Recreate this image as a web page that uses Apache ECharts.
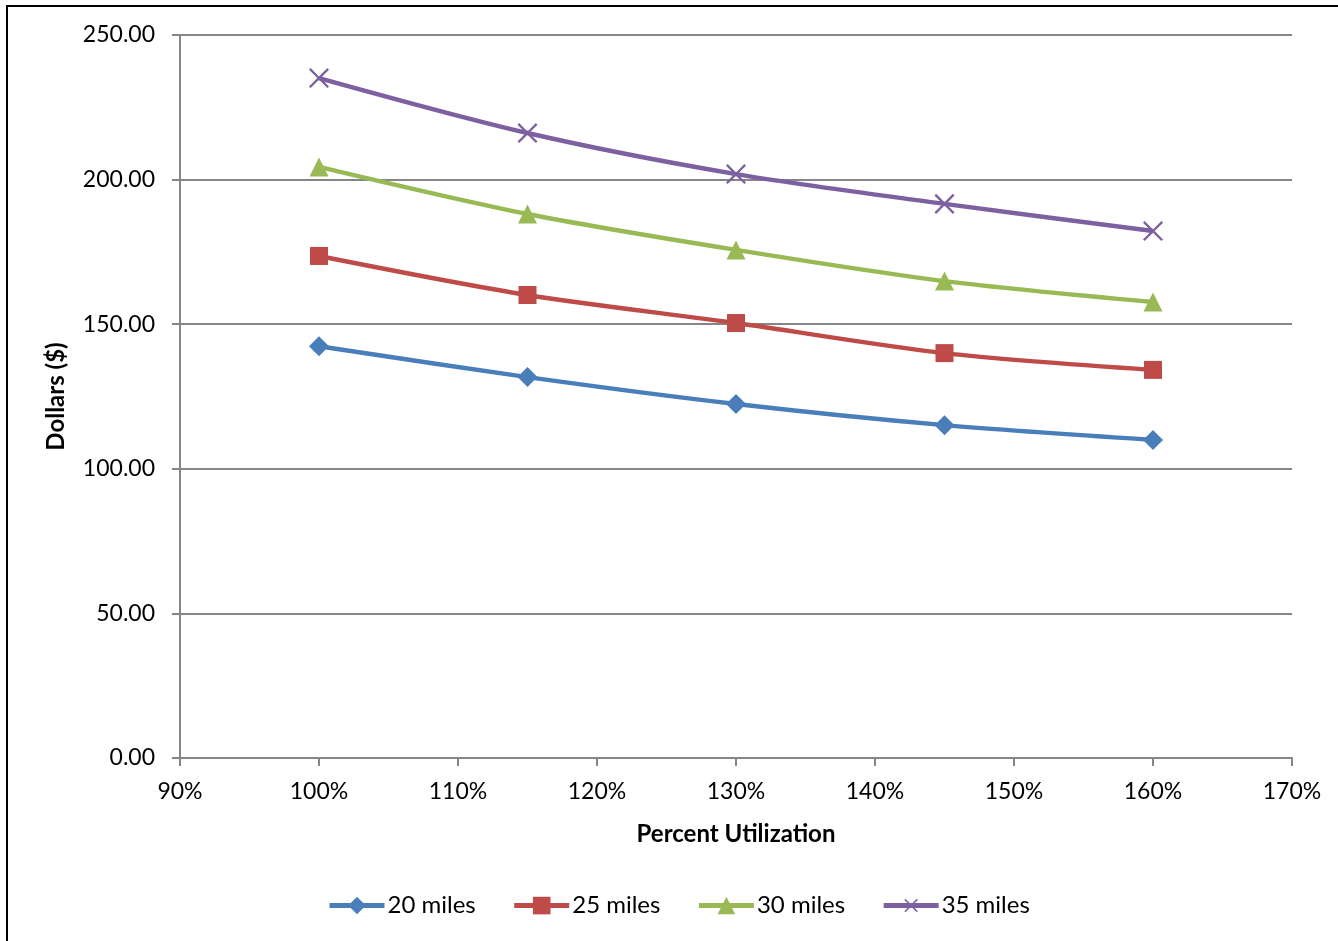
<!DOCTYPE html>
<html>
<head>
<meta charset="utf-8">
<title>Dollars vs Percent Utilization</title>
<script src="https://cdn.jsdelivr.net/npm/echarts@6/dist/echarts.min.js"></script>
<style>
  html, body { margin: 0; padding: 0; background: #fff; }
  #chart { width: 1338px; height: 941px; }
</style>
</head>
<body>
<div id="chart"></div>
<script>
// Percent utilization values on the x axis
const utilization = [100, 115, 130, 145, 160];

// Dollar cost for each trip distance
const miles20 = [142.4, 131.7, 122.4, 115.1, 110.0];
const miles25 = [173.6, 160.1, 150.4, 140.0, 134.2];
const miles30 = [204.4, 188.1, 175.7, 164.9, 157.7];
const miles35 = [235.1, 216.1, 201.9, 191.6, 182.2];

const seriesNames = ['20 miles', '25 miles', '30 miles', '35 miles'];
const seriesColors = ['#4a7ebb', '#be4b48', '#98b954', '#7d60a0'];

// Thin plus shape, rotated 45 degrees to form an "x" marker
const crossPath = 'path://M4.55,0 H5.45 V4.55 H10 V5.45 H5.45 V10 H4.55 V5.45 H0 V4.55 H4.55 Z';

const fontFamily = 'Lato, "Open Sans", sans-serif';

function pairs(values) {
  return utilization.map((u, i) => [u, values[i]]);
}

function makeSeries(name, values, color, symbol, size, rotate) {
  return {
    name: name,
    type: 'line',
    data: pairs(values),
    smooth: 0.3,
    symbol: symbol,
    symbolSize: size,
    symbolRotate: rotate || 0,
    showAllSymbol: true,
    lineStyle: { color: color, width: 4.5 },
    itemStyle: { color: color, borderWidth: 0 },
    emphasis: { disabled: true },
    z: 3
  };
}

const chart = echarts.init(document.getElementById('chart'), null, { renderer: 'canvas' });

chart.setOption({
  animation: false,
  backgroundColor: '#ffffff',
  textStyle: { fontFamily: fontFamily },
  graphic: [{
    type: 'polyline',
    shape: { points: [[7, 945], [7, 6], [1345, 6]] },
    style: { stroke: '#000', lineWidth: 2, fill: null },
    silent: true
  }],
  grid: { left: 180, right: 46, top: 35, bottom: 183, containLabel: false },
  xAxis: {
    type: 'value',
    min: 90,
    max: 170,
    interval: 10,
    name: 'Percent Utilization',
    nameLocation: 'middle',
    nameGap: 64,
    nameTextStyle: { fontSize: 24, fontWeight: 'bold', color: '#000', fontFamily: fontFamily },
    axisLine: { show: true, onZero: false, lineStyle: { color: '#868686', width: 2 } },
    axisTick: { show: true, length: 8, lineStyle: { color: '#868686', width: 2 } },
    axisLabel: { formatter: '{value}%', fontSize: 23, color: '#000', margin: 22, fontFamily: fontFamily },
    splitLine: { show: false }
  },
  yAxis: {
    type: 'value',
    min: 0,
    max: 250,
    interval: 50,
    name: 'Dollars ($)',
    nameLocation: 'middle',
    nameGap: 112,
    nameRotate: 90,
    nameTextStyle: { fontSize: 24, fontWeight: 'bold', color: '#000', fontFamily: fontFamily },
    axisLine: { show: true, lineStyle: { color: '#868686', width: 2 } },
    axisTick: { show: true, length: 8, lineStyle: { color: '#868686', width: 2 } },
    axisLabel: { formatter: v => v.toFixed(2), fontSize: 23, color: '#000', margin: 25, fontFamily: fontFamily },
    splitLine: { show: true, lineStyle: { color: '#868686', width: 2 } }
  },
  legend: {
    bottom: 18,
    left: 322,
    itemWidth: 55,
    itemHeight: 22,
    itemGap: 36,
    lineStyle: { width: 5 },
    textStyle: { fontSize: 24, color: '#000', fontFamily: fontFamily, padding: [0, 0, 0, -2] },
    data: seriesNames
  },
  series: [
    makeSeries(seriesNames[0], miles20, seriesColors[0], 'diamond', 20),
    makeSeries(seriesNames[1], miles25, seriesColors[1], 'rect', 18),
    makeSeries(seriesNames[2], miles30, seriesColors[2], 'triangle', 19),
    makeSeries(seriesNames[3], miles35, seriesColors[3], crossPath, 26, 45)
  ]
});
</script>
</body>
</html>
